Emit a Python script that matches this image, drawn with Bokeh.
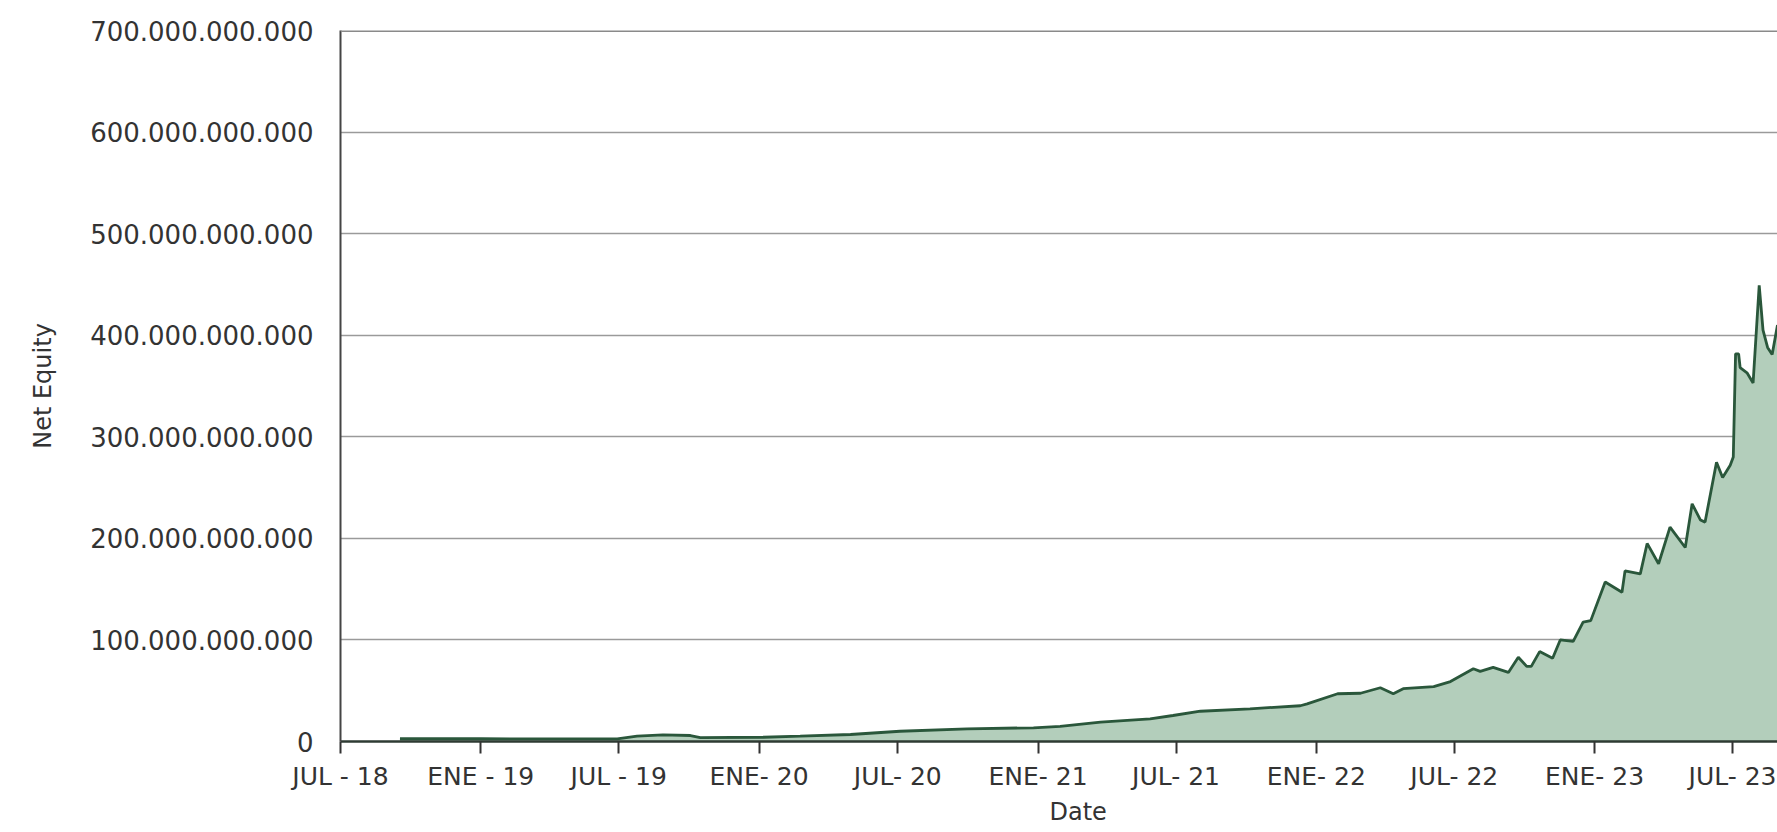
import pandas as pd
from bokeh.plotting import figure
from bokeh.models import Range1d, FixedTicker, Span, Title
from bokeh.embed import file_html
from bokeh.resources import INLINE

# ---- data (Net Equity, in billions) ----
dates = [
    "2018-09-17", "2019-01-01", "2019-06-29", "2019-07-25", "2019-08-28", "2019-10-03",
    "2019-10-16", "2020-01-07", "2020-02-24", "2020-04-30", "2020-07-04", "2020-09-30",
    "2020-12-26", "2021-01-30", "2021-03-24", "2021-05-28", "2021-06-27", "2021-08-02",
    "2021-10-06", "2021-12-11", "2021-12-20", "2022-01-29", "2022-02-28", "2022-03-26",
    "2022-04-12", "2022-04-25", "2022-06-04", "2022-06-26", "2022-07-26", "2022-08-04",
    "2022-08-21", "2022-09-10", "2022-09-23", "2022-10-04", "2022-10-10", "2022-10-21",
    "2022-11-07", "2022-11-17", "2022-12-04", "2022-12-17", "2022-12-27", "2023-01-15",
    "2023-02-06", "2023-02-10", "2023-03-02", "2023-03-11", "2023-03-26", "2023-04-10",
    "2023-04-30", "2023-05-09", "2023-05-20", "2023-05-26", "2023-06-10", "2023-06-18",
    "2023-06-28", "2023-07-02", "2023-07-05", "2023-07-09", "2023-07-11", "2023-07-20",
    "2023-07-28", "2023-08-05", "2023-08-10", "2023-08-16", "2023-08-22", "2023-08-29",
]
equity_bn = [
    2.7, 2.7, 2.6, 5.2, 6.6, 5.9,
    3.8, 4.2, 5.2, 6.9, 10.1, 12.5,
    13.5, 14.8, 19.0, 22.3, 25.6, 29.8,
    32.2, 35.2, 37.0, 47.0, 47.5, 52.9,
    47.0, 52.0, 54.0, 59.0, 71.6, 69.0,
    73.0, 68.0, 83.0, 74.0, 74.0, 88.5,
    82.0, 100.0, 98.5, 117.5, 119.0, 157.0,
    147.0, 168.0, 165.0, 195.0, 175.0, 211.0,
    191.0, 234.0, 218.0, 216.0, 275.0, 260.0,
    272.0, 280.0, 381.6, 381.6, 368.0, 363.0,
    353.0, 449.0, 405.0, 388.0, 381.0, 410.0,
]
tick_dates = [
    "2018-07-01", "2019-01-01", "2019-07-01", "2020-01-01", "2020-07-01", "2021-01-01",
    "2021-07-01", "2022-01-01", "2022-07-01", "2023-01-01", "2023-07-01",
]
tick_labels = [
    "JUL - 18", "ENE - 19", "JUL - 19", "ENE- 20", "JUL- 20", "ENE- 21",
    "JUL- 21", "ENE- 22", "JUL- 22", "ENE- 23", "JUL- 23",
]
y_ticks = [0, 100e9, 200e9, 300e9, 400e9, 500e9, 600e9, 700e9]
x_start, x_end = "2018-07-01", "2023-08-29"


def to_ms(d):
    return [int(v) for v in (pd.to_datetime(d) - pd.Timestamp("1970-01-01")) // pd.Timedelta(milliseconds=1)]


xs = to_ms(dates)
ys = [v * 1e9 for v in equity_bn]
xt = to_ms(tick_dates)
xr = to_ms([x_start, x_end])

FONT = "DejaVu Sans"
TXT = "#333333"

p = figure(
    width=1777, height=832,
    output_backend="svg", toolbar_location=None,
    x_range=Range1d(xr[0], xr[1]), y_range=Range1d(0, 700e9),
    min_border_left=340, min_border_right=0, min_border_top=30, min_border_bottom=91,
)
p.outline_line_color = None
p.background_fill_color = "white"
p.border_fill_color = "white"

p.varea(x=xs, y1=[0] * len(xs), y2=ys, fill_color="#b3cebb", fill_alpha=1.0)
p.line(x=xs, y=ys, line_color="#2a573b", line_width=2.8)

# x axis
p.xaxis.ticker = FixedTicker(ticks=xt)
p.xaxis.major_label_overrides = {t: l for t, l in zip(xt, tick_labels)}
p.xaxis.axis_line_color = "#2e3b33"
p.xaxis.axis_line_width = 2.5
p.xaxis.major_tick_in = 0
p.xaxis.major_tick_out = 12
p.xaxis.major_tick_line_color = "#333333"
p.xaxis.major_tick_line_width = 2
p.xaxis.minor_tick_line_color = None
p.xaxis.major_label_standoff = 8
p.xaxis.major_label_text_font = FONT
p.xaxis.major_label_text_font_size = "25px"
p.xaxis.major_label_text_color = TXT

# y axis
p.yaxis.ticker = FixedTicker(ticks=y_ticks)
p.yaxis.major_label_overrides = {int(v): f"{int(v):,}".replace(",", ".") for v in y_ticks}
p.yaxis.axis_line_color = "#444444"
p.yaxis.axis_line_width = 2
p.yaxis.major_tick_in = 0
p.yaxis.major_tick_out = 0
p.yaxis.minor_tick_line_color = None
p.yaxis.major_label_standoff = 27
p.yaxis.major_label_text_font = FONT
p.yaxis.major_label_text_font_size = "26px"
p.yaxis.major_label_text_color = TXT
p.yaxis.axis_label = "Net Equity"
p.yaxis.axis_label_standoff = 30
p.yaxis.axis_label_text_font = FONT
p.yaxis.axis_label_text_font_size = "24px"
p.yaxis.axis_label_text_font_style = "normal"
p.yaxis.axis_label_text_color = TXT

p.xgrid.grid_line_color = None
p.ygrid.grid_line_color = "#9a9a9a"
p.ygrid.grid_line_width = 1.5

p.add_layout(Span(location=700e9, dimension="width", line_color="#8a8a8a", line_width=3))

p.add_layout(Title(
    text="Date", align="left", offset=709, standoff=5,
    text_font=FONT, text_font_size="24px", text_font_style="normal", text_color=TXT,
), "below")

open("out.html", "w").write(file_html(p, INLINE))
